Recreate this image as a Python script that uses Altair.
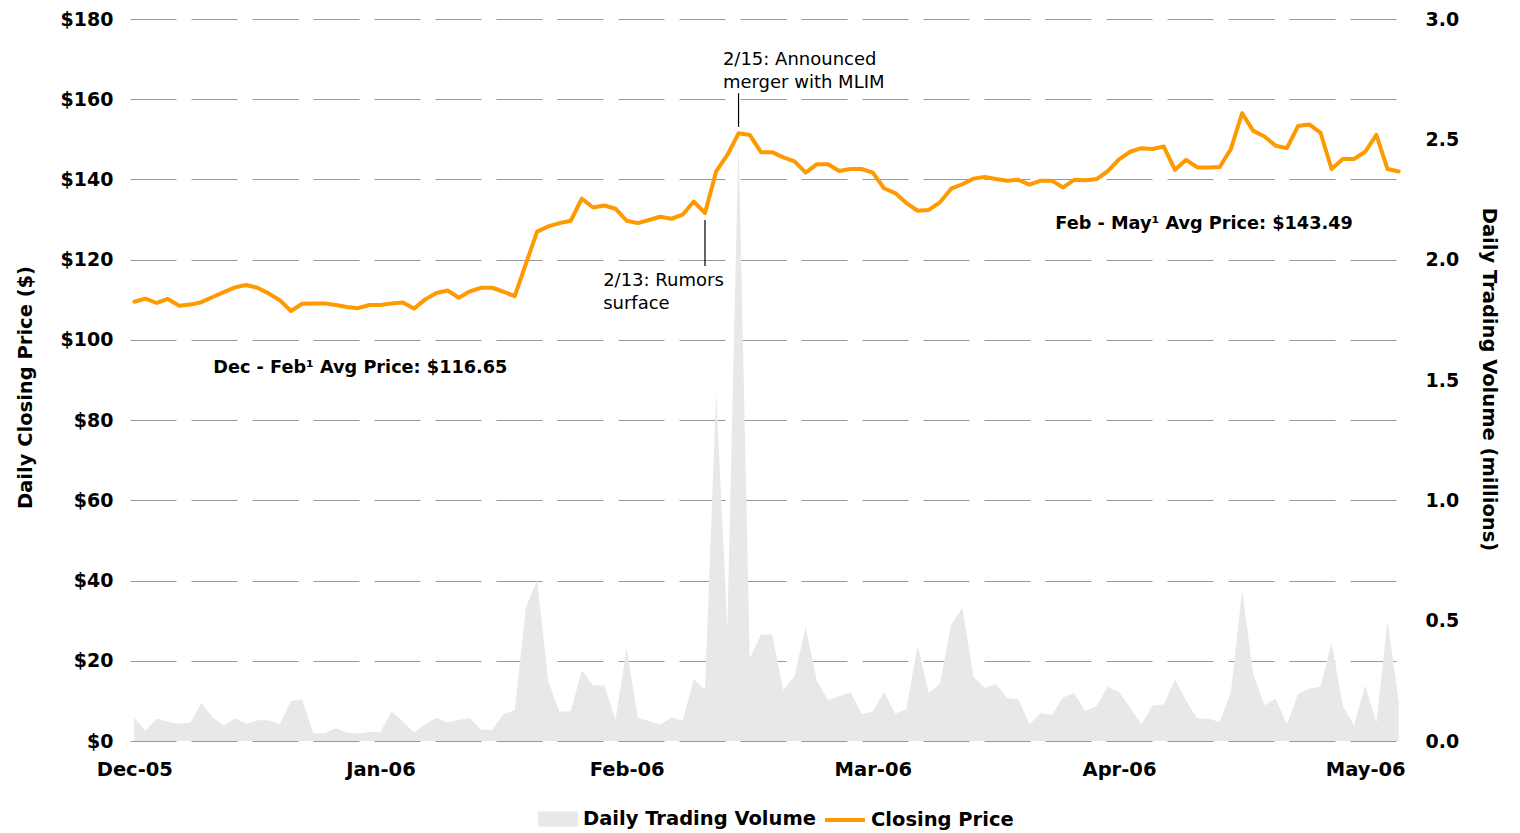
import altair as alt
import pandas as pd

FONT = "DejaVu Sans"

# ---- data ----
month_labels = ["Dec-05", "Jan-06", "Feb-06", "Mar-06", "Apr-06", "May-06"]
month_ticks = [0, 22, 44, 66, 88, 110]

price = [
    109.5, 110.3, 109.2, 110.2, 108.5, 108.8, 109.4, 110.7, 111.9, 113.1,
    113.7, 113.0, 111.6, 109.9, 107.2, 109.0, 109.1, 109.1, 108.7, 108.2,
    107.9, 108.7, 108.7, 109.1, 109.3, 107.8, 110.1, 111.7, 112.3, 110.5,
    112.1, 113.0, 113.0, 112.0, 110.9, 119.0, 127.0, 128.3, 129.1, 129.7,
    135.2, 133.0, 133.5, 132.7, 129.7, 129.1, 129.9, 130.7, 130.2, 131.2,
    134.5, 131.6, 142.0, 146.1, 151.5, 151.1, 146.8, 146.8, 145.5, 144.5,
    141.7, 143.8, 143.8, 142.1, 142.6, 142.6, 141.7, 137.8, 136.6, 134.1,
    132.2, 132.4, 134.3, 137.7, 138.8, 140.2, 140.6, 140.1, 139.7, 139.9,
    138.7, 139.7, 139.7, 138.0, 139.9, 139.8, 140.1, 142.1, 145.0, 146.9,
    147.8, 147.6, 148.2, 142.4, 144.9, 143.0, 143.0, 143.1, 147.6, 156.5,
    152.1, 150.7, 148.4, 147.8, 153.3, 153.7, 151.7, 142.6, 145.1, 145.1,
    146.9, 151.1, 142.6, 142.0,
]

volume = [
    0.097, 0.043, 0.094, 0.080, 0.072, 0.076, 0.159, 0.098, 0.063, 0.095,
    0.072, 0.086, 0.086, 0.070, 0.166, 0.171, 0.032, 0.032, 0.054, 0.034,
    0.030, 0.037, 0.037, 0.124, 0.080, 0.036, 0.070, 0.097, 0.077, 0.088,
    0.094, 0.047, 0.047, 0.112, 0.128, 0.557, 0.667, 0.246, 0.122, 0.124,
    0.294, 0.231, 0.231, 0.087, 0.384, 0.097, 0.083, 0.069, 0.098, 0.084,
    0.257, 0.214, 1.448, 0.467, 2.500, 0.343, 0.443, 0.443, 0.211, 0.269,
    0.474, 0.249, 0.170, 0.186, 0.204, 0.111, 0.124, 0.204, 0.113, 0.133,
    0.398, 0.198, 0.239, 0.484, 0.554, 0.266, 0.221, 0.236, 0.179, 0.173,
    0.070, 0.115, 0.108, 0.181, 0.198, 0.124, 0.145, 0.225, 0.204, 0.138,
    0.069, 0.148, 0.152, 0.257, 0.167, 0.092, 0.092, 0.079, 0.204, 0.626,
    0.278, 0.149, 0.177, 0.070, 0.195, 0.218, 0.225, 0.407, 0.145, 0.065,
    0.232, 0.076, 0.499, 0.163,
]

series_names = ["Daily Trading Volume", "Closing Price"]
price_ticks = list(range(0, 181, 20))
volume_ticks = [0, 0.5, 1.0, 1.5, 2.0, 2.5, 3.0]

# annotation callouts: event text, day index, line from/to price, text anchor
event_text = ["2/13: Rumors\nsurface", "2/15: Announced\nmerger with MLIM"]
event_day = [51, 54]
event_line_lo = [118.4, 153.1]
event_line_hi = [129.9, 161.5]
event_text_day = [41.9, 52.6]
event_text_price = [114.6, 169.7]

avg_text = ["Dec - Feb\u00b9 Avg Price: $116.65", "Feb - May\u00b9 Avg Price: $143.49"]
avg_day = [20.2, 95.6]
avg_price = [92.9, 129.0]

# ---- tables ----
df = pd.DataFrame({"day": list(range(len(price))), "price": price, "volume": volume})
ev = pd.DataFrame({"day": event_day, "lo": event_line_lo, "hi": event_line_hi,
                   "tday": event_text_day, "tprice": event_text_price, "text": event_text})
av = pd.DataFrame({"day": avg_day, "price": avg_price, "text": avg_text})

label_expr = " : ".join(
    f"datum.value == {v} ? '{l}'" for v, l in zip(month_ticks, month_labels)
) + " : ''"

x_scale = alt.Scale(domain=[-0.384, 113.38], nice=False, zero=False)
price_scale = alt.Scale(domain=[0, 180], nice=False)
vol_scale = alt.Scale(domain=[0, 3], nice=False)

x_axis = alt.Axis(values=month_ticks, labelExpr=label_expr, grid=False,
                  domain=False, ticks=False, labelPadding=19,
                  labelFont=FONT, labelFontSize=19.5, labelFontWeight="bold",
                  labelColor="#000000", labelFlush=False, title=None)

price_axis = alt.Axis(values=price_ticks, labelExpr="'$' + datum.value",
                      grid=True, gridDash=[46, 15], gridColor="#999999",
                      gridWidth=1.2, domain=False, ticks=False, labelPadding=17,
                      labelFont=FONT, labelFontSize=19, labelFontWeight="bold",
                      labelColor="#000000",
                      title="Daily Closing Price ($)",
                      titleFont=FONT, titleFontSize=19.5, titleFontWeight="bold",
                      titleColor="#000000", titleAngle=-90, titleX=-105, titleY=368,
                      titleAlign="center", titleBaseline="middle")

vol_axis = alt.Axis(orient="right", values=volume_ticks, format=".1f", grid=False,
                    domain=False, ticks=False, labelPadding=22,
                    labelFont=FONT, labelFontSize=19, labelFontWeight="bold",
                    labelColor="#000000",
                    title="Daily Trading Volume (millions)",
                    titleFont=FONT, titleFontSize=19.5, titleFontWeight="bold",
                    titleColor="#000000", titleAngle=90, titleX=85, titleY=360,
                    titleAlign="center", titleBaseline="middle")

area = alt.Chart(df).transform_calculate(
    series=f"'{series_names[0]}'"
).mark_area(interpolate="linear", opacity=1).encode(
    x=alt.X("day:Q", scale=x_scale, axis=x_axis),
    y=alt.Y("volume:Q", scale=vol_scale, axis=vol_axis),
    fill=alt.Fill("series:N",
                  scale=alt.Scale(domain=[series_names[0]], range=["#e8e8e8"]),
                  legend=alt.Legend(orient="none", legendX=408, legendY=780, title=None,
                                    padding=0, labelLimit=400,
                                    symbolType="M-1,-0.375L1,-0.375L1,0.375L-1,0.375Z",
                                    symbolSize=1600, symbolStrokeWidth=0,
                                    symbolFillColor="#e8e8e8", labelOffset=5,
                                    labelFont=FONT, labelFontSize=19.5,
                                    labelFontWeight="bold", labelColor="#000000")),
)

line = alt.Chart(df).transform_calculate(
    series=f"'{series_names[1]}'"
).mark_line(strokeWidth=4, strokeJoin="round", strokeCap="round").encode(
    x=alt.X("day:Q", scale=x_scale, axis=x_axis),
    y=alt.Y("price:Q", scale=price_scale, axis=price_axis),
    stroke=alt.Stroke("series:N",
                      scale=alt.Scale(domain=[series_names[1]], range=["#ff9900"]),
                      legend=alt.Legend(orient="none", legendX=693, legendY=779, title=None,
                                        padding=0, labelLimit=400,
                                        symbolType="stroke", symbolSize=1600,
                                        symbolStrokeWidth=4, labelOffset=4,
                                        labelFont=FONT, labelFontSize=19.5,
                                        labelFontWeight="bold", labelColor="#000000")),
)

rules = alt.Chart(ev).mark_rule(color="#000000", strokeWidth=1.2).encode(
    x=alt.X("day:Q", scale=x_scale, axis=x_axis),
    y=alt.Y("lo:Q", scale=price_scale, axis=price_axis),
    y2="hi:Q",
)

ev_text = alt.Chart(ev).mark_text(
    align="left", baseline="middle", font=FONT, fontSize=18, lineHeight=23,
    lineBreak="\n", color="#000000"
).encode(
    x=alt.X("tday:Q", scale=x_scale, axis=x_axis),
    y=alt.Y("tprice:Q", scale=price_scale, axis=price_axis),
    text="text:N",
)

avg = alt.Chart(av).mark_text(
    align="center", baseline="middle", font=FONT, fontSize=17.7, fontWeight="bold",
    color="#000000"
).encode(
    x=alt.X("day:Q", scale=x_scale, axis=x_axis),
    y=alt.Y("price:Q", scale=price_scale, axis=price_axis),
    text="text:N",
)

price_layer = alt.layer(line, rules, ev_text, avg)

chart = alt.layer(area, price_layer).resolve_scale(
    y="independent", fill="independent", stroke="independent"
).properties(
    width=1273, height=722,
    autosize=alt.AutoSizeParams(type="none"),
    padding={"left": 122, "top": 11, "right": 100, "bottom": 92},
    background="#ffffff",
).configure_view(stroke=None)

chart.save("out.html", embed_options={"renderer": "svg", "actions": False})
